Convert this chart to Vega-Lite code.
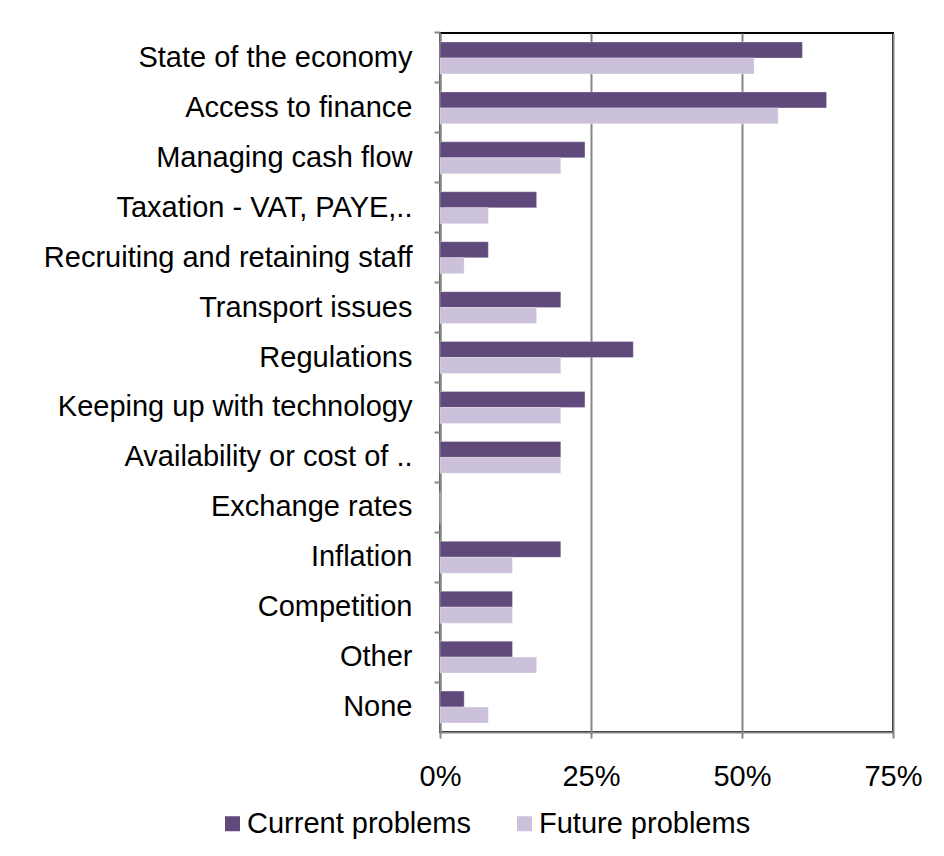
{
  "$schema": "https://vega.github.io/schema/vega-lite/v6.json",
  "autosize": "none",
  "width": 453,
  "height": 699,
  "padding": {"left": 440, "top": 33, "right": 51, "bottom": 124},
  "background": "white",
  "config": {
    "view": {"stroke": "black", "strokeWidth": 2},
    "font": "Liberation Sans"
  },
  "data": {
    "values": [
      {"category": "State of the economy", "series": "Current problems", "value": 0.60},
      {"category": "State of the economy", "series": "Future problems", "value": 0.52},
      {"category": "Access to finance", "series": "Current problems", "value": 0.64},
      {"category": "Access to finance", "series": "Future problems", "value": 0.56},
      {"category": "Managing cash flow", "series": "Current problems", "value": 0.24},
      {"category": "Managing cash flow", "series": "Future problems", "value": 0.20},
      {"category": "Taxation - VAT, PAYE,..", "series": "Current problems", "value": 0.16},
      {"category": "Taxation - VAT, PAYE,..", "series": "Future problems", "value": 0.08},
      {"category": "Recruiting and retaining staff", "series": "Current problems", "value": 0.08},
      {"category": "Recruiting and retaining staff", "series": "Future problems", "value": 0.04},
      {"category": "Transport issues", "series": "Current problems", "value": 0.20},
      {"category": "Transport issues", "series": "Future problems", "value": 0.16},
      {"category": "Regulations", "series": "Current problems", "value": 0.32},
      {"category": "Regulations", "series": "Future problems", "value": 0.20},
      {"category": "Keeping up with technology", "series": "Current problems", "value": 0.24},
      {"category": "Keeping up with technology", "series": "Future problems", "value": 0.20},
      {"category": "Availability or cost of ..", "series": "Current problems", "value": 0.20},
      {"category": "Availability or cost of ..", "series": "Future problems", "value": 0.20},
      {"category": "Exchange rates", "series": "Current problems", "value": 0},
      {"category": "Exchange rates", "series": "Future problems", "value": 0},
      {"category": "Inflation", "series": "Current problems", "value": 0.20},
      {"category": "Inflation", "series": "Future problems", "value": 0.12},
      {"category": "Competition", "series": "Current problems", "value": 0.12},
      {"category": "Competition", "series": "Future problems", "value": 0.12},
      {"category": "Other", "series": "Current problems", "value": 0.12},
      {"category": "Other", "series": "Future problems", "value": 0.16},
      {"category": "None", "series": "Current problems", "value": 0.04},
      {"category": "None", "series": "Future problems", "value": 0.08}
    ]
  },
  "mark": {"type": "bar", "stroke": "white", "strokeWidth": 0.5, "strokeOpacity": 0.6},
  "encoding": {
    "y": {
      "field": "category",
      "type": "nominal",
      "sort": null,
      "scale": {"paddingInner": 0.36, "paddingOuter": 0.18},
      "axis": {
        "title": null,
        "bandPosition": -0.28125,
        "labelFontSize": 29,
        "labelColor": "black",
        "labelPadding": 22,
        "labelLimit": 430,
        "tickSize": 6,
        "tickColor": "#868686",
        "tickWidth": 2,
        "domainColor": "#868686",
        "domainWidth": 2
      }
    },
    "yOffset": {"field": "series", "type": "nominal", "sort": ["Current problems", "Future problems"]},
    "x": {
      "field": "value",
      "type": "quantitative",
      "scale": {"domain": [0, 0.75]},
      "axis": {
        "title": null,
        "values": [0, 0.25, 0.5, 0.75],
        "format": "~%",
        "labelFlush": false,
        "labelFontSize": 29,
        "labelColor": "black",
        "labelPadding": 24,
        "tickSize": 6,
        "tickColor": "#868686",
        "tickWidth": 2,
        "domainColor": "#868686",
        "domainWidth": 2,
        "gridColor": "#868686",
        "gridWidth": 2
      }
    },
    "color": {
      "field": "series",
      "type": "nominal",
      "scale": {"domain": ["Current problems", "Future problems"], "range": ["#604A7B", "#CCC1DA"]},
      "legend": {
        "title": null,
        "orient": "none",
        "direction": "horizontal",
        "legendX": -222,
        "legendY": 776,
        "symbolType": "square",
        "symbolSize": 225,
        "symbolStrokeWidth": 0,
        "labelFontSize": 29,
        "labelColor": "black",
        "labelOffset": 0,
        "labelLimit": 400,
        "columnPadding": 38
      }
    }
  }
}
